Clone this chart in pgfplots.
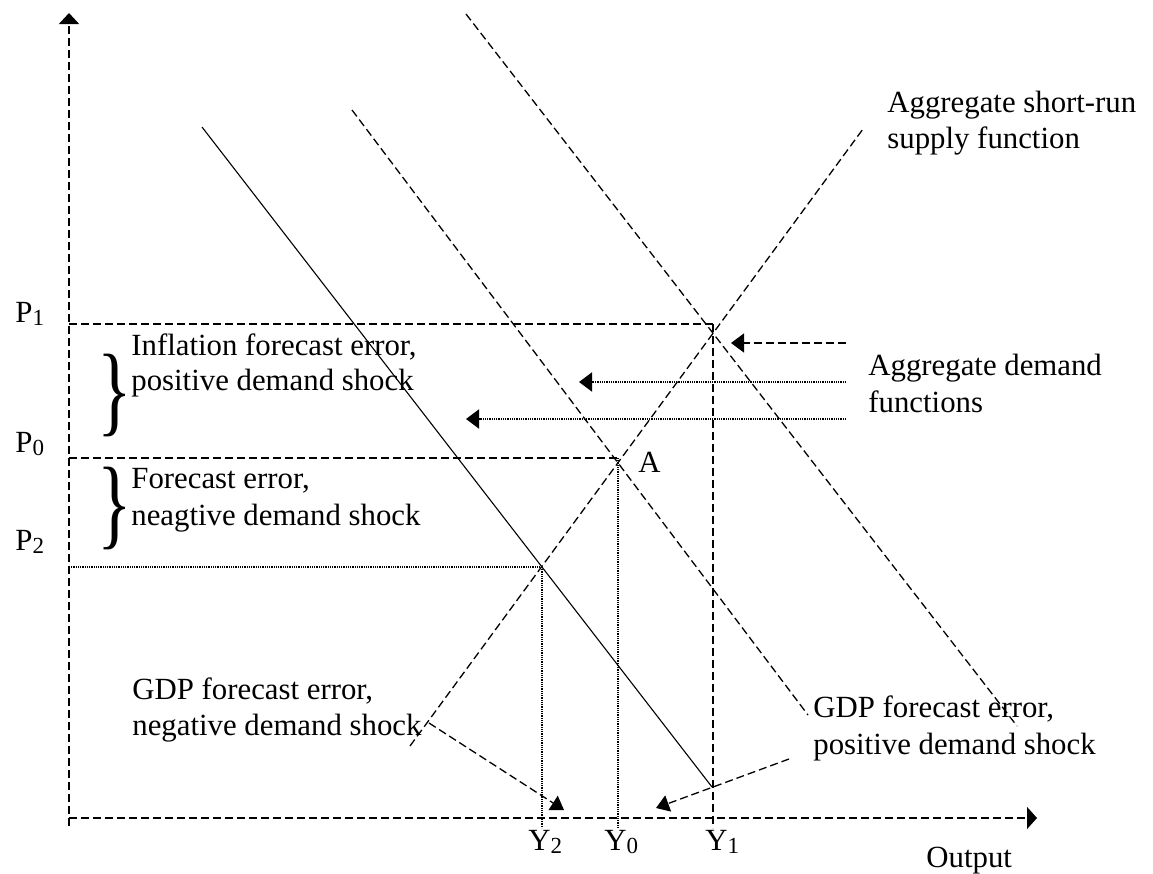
\documentclass[border=0pt]{standalone}
\usepackage{fontspec}
\setmainfont{Liberation Serif}
\usepackage{graphicx}
\usepackage{pgfplots}
\pgfplotsset{compat=1.18}
\usetikzlibrary{arrows.meta}
\newcommand{\sub}[1]{\raisebox{-0.25ex}{\fontsize{11.5}{11.5}\selectfont #1}}
\begin{document}
\begin{tikzpicture}[
  dsh/.style={line width=0.65pt, dash pattern=on 4pt off 2pt},
  dtt/.style={line width=0.85pt, dash pattern=on 0.5pt off 0.4pt},
  sol/.style={line width=0.55pt},
  lab/.style={anchor=base west, inner sep=0pt, font=\fontsize{15.4}{18}\selectfont},
  brace/.style={anchor=center, inner sep=0pt}
]
\begin{axis}[
  scale only axis, width=576.5pt, height=437pt,
  xmin=0, xmax=1153, ymin=0, ymax=874, y dir=reverse,
  hide axis, clip=false]
% frame corners (invisible) to fix the picture size
\addplot[draw=none] coordinates {(0,0) (1153,874)};
% axes
\addplot[dsh, -{Triangle[length=5.5pt,width=10pt]}] coordinates {(69,826) (69,13)};
\addplot[dsh, -{Triangle[length=5pt,width=11pt]}] coordinates {(69,818) (1037,818)};
% supply
\addplot[dsh] coordinates {(410,746) (863,129)};
% demand curves
\addplot[sol] coordinates {(202,127) (712,787)};
\addplot[dsh] coordinates {(352,110) (808,715)};
\addplot[dsh] coordinates {(466,14) (1017,726)};
% price levels
\addplot[dsh] coordinates {(69,324) (713,324)};
\addplot[dsh] coordinates {(69,458) (618,458)};
\addplot[dtt] coordinates {(69,567) (542,567)};
% output levels
\addplot[dsh] coordinates {(713,324) (713,828)};
\addplot[dtt] coordinates {(618,458) (618,828)};
\addplot[dtt] coordinates {(542,567) (542,828)};
% arrows to demand functions
\addplot[dsh, -{Triangle[length=6.5pt,width=9.5pt]}] coordinates {(846,343) (731,343)};
\addplot[dtt, -{Triangle[length=6.5pt,width=9.5pt]}] coordinates {(846,382) (579,382)};
\addplot[dtt, -{Triangle[length=6.5pt,width=9.5pt]}] coordinates {(846,419) (466,419)};
% GDP forecast error arrows
\addplot[dsh, -{Triangle[length=6.5pt,width=8.5pt]}] coordinates {(429,723) (564,810)};
\addplot[dsh, -{Triangle[length=6.5pt,width=8.5pt]}] coordinates {(789,759) (656,808)};
% labels
\node[lab] at (axis cs:15,322) {P\sub{1}};
\node[lab] at (axis cs:15,452) {P\sub{0}};
\node[lab] at (axis cs:15,550) {P\sub{2}};
\node[brace] at (axis cs:115,395) {\scalebox{0.72}[1]{\fontsize{50}{50}\selectfont\}}};
\node[brace] at (axis cs:115,508) {\scalebox{0.72}[1]{\fontsize{50}{50}\selectfont\}}};
\node[lab] at (axis cs:131,355) {Inflation forecast error,};
\node[lab] at (axis cs:131,390) {positive demand shock};
\node[lab] at (axis cs:131,488) {Forecast error,};
\node[lab] at (axis cs:131,525) {neagtive demand shock};
\node[lab] at (axis cs:887,112) {Aggregate short-run};
\node[lab] at (axis cs:887,148) {supply function};
\node[lab] at (axis cs:868,375) {Aggregate demand};
\node[lab] at (axis cs:868,412) {functions};
\node[lab] at (axis cs:638,472) {A};
\node[lab] at (axis cs:132,699) {GDP forecast error,};
\node[lab] at (axis cs:132,735) {negative demand shock};
\node[lab] at (axis cs:813,717) {GDP forecast error,};
\node[lab] at (axis cs:813,754) {positive demand shock};
\node[lab] at (axis cs:528,850) {Y\sub{2}};
\node[lab] at (axis cs:604,850) {Y\sub{0}};
\node[lab] at (axis cs:705,850) {Y\sub{1}};
\node[lab] at (axis cs:926,867) {Output};
\end{axis}
\end{tikzpicture}
\end{document}
